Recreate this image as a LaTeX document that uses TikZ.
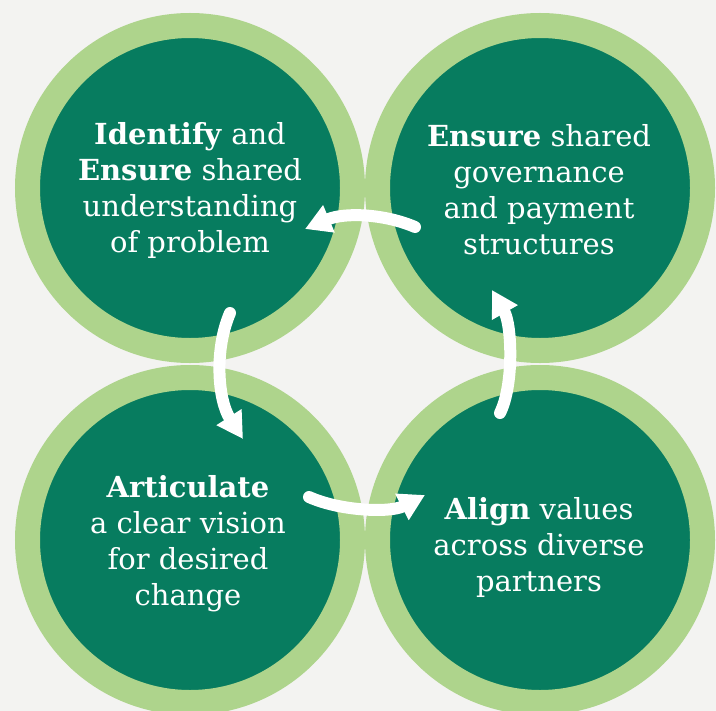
\documentclass[tikz,border=0pt]{standalone}
\usepackage{fontspec}
\setmainfont{DejaVu Serif}
\usetikzlibrary{arrows.meta}
\definecolor{deepgreen}{HTML}{077C5F}
\definecolor{palegreen}{HTML}{AED48C}
\definecolor{paper}{HTML}{F3F3F1}
\tikzset{
  x=1bp, y=-1bp,
  stage/.style={circle, draw=palegreen, line width=25bp, fill=deepgreen,
    minimum size=325bp, inner sep=0pt},
  caption/.style={align=center, text=white, inner sep=0pt,
    font=\fontsize{29bp}{36bp}\selectfont},
  flow/.style={draw=white, line width=12bp, line cap=round,
    -{Triangle[length=26bp,width=28bp]}},
}
\begin{document}
\begin{tikzpicture}
  % canvas
  \fill[paper] (0,0) rectangle (716,711);
  \useasboundingbox (0,0) rectangle (716,711);

  % the four stages
  \node[stage] (tl) at (190,188) {};
  \node[stage] (tr) at (540,188) {};
  \node[stage] (bl) at (190,540) {};
  \node[stage] (br) at (540,540) {};

  \node[caption] (tlText) at (190,190) {\textbf{Identify} and\\\textbf{Ensure} shared\\understanding\\of problem};
  \node[caption] (trText) at (539,190) {\textbf{Ensure} shared\\governance\\and payment\\structures};
  \node[caption] (blText) at (188,544) {\textbf{Articulate}\\a clear vision\\for desired\\change};
  \node[caption] (brText) at (539,547) {\textbf{Align} values\\across diverse\\partners};

  % arrow end points
  \coordinate (trOut) at (415,227);
  \coordinate (tlIn)  at (305,229);
  \coordinate (tlOut) at (230,313);
  \coordinate (blIn)  at (243,439);
  \coordinate (blOut) at (309,497);
  \coordinate (brIn)  at (425,495);
  \coordinate (brOut) at (500,413);
  \coordinate (trIn)  at (492,290);

  % cycle arrows
  \draw[flow] (trOut) .. controls (385,214) and (345,212) .. (tlIn);
  \draw[flow] (tlOut) .. controls (214,350) and (218,400) .. (blIn);
  \draw[flow] (blOut) .. controls (340,511) and (390,513) .. (brIn);
  \draw[flow] (brOut) .. controls (514,385) and (512,325) .. (trIn);
\end{tikzpicture}
\end{document}
